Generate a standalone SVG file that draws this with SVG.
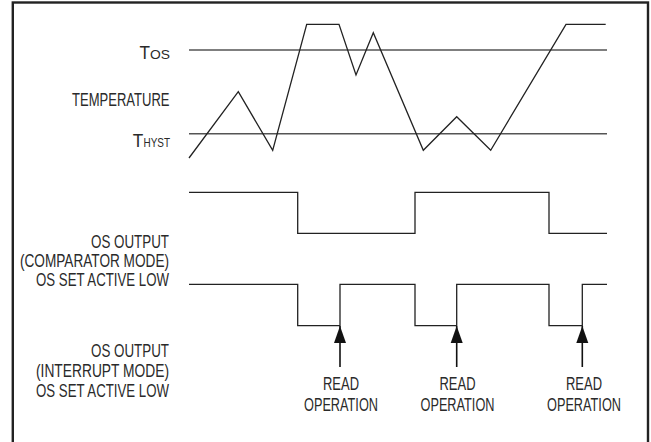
<svg xmlns="http://www.w3.org/2000/svg" width="651" height="442" viewBox="0 0 651 442">
<defs>
<style>
.lbl{font-family:"Liberation Sans",Arial,sans-serif;font-size:18.5px;fill:#2a2a2a;}
.sub{font-family:"Liberation Sans",Arial,sans-serif;font-size:13.5px;fill:#2a2a2a;}
.thr{fill:none;stroke:#555;stroke-width:1.5;}
.wave{fill:none;stroke:#222;stroke-width:1.3;stroke-linejoin:miter;}
.arr{stroke:#111;stroke-width:1.6;fill:none;}
</style>
<marker id="ah" markerUnits="userSpaceOnUse" markerWidth="18" markerHeight="13" refX="17" refY="6" orient="auto" viewBox="0 0 18 12">
<path d="M0,0 L17,6 L0,12 z" fill="#111"/>
</marker>
</defs>
<rect x="0" y="0" width="651" height="442" fill="#fff"/>
<rect x="12.8" y="2.5" width="635.2" height="445" fill="none" stroke="#222" stroke-width="2.4"/>

<g id="label-tos">
<text class="lbl" x="139.5" y="58.5" textLength="10.5" lengthAdjust="spacingAndGlyphs">T</text>
<text class="sub" x="150" y="58.5" textLength="20" lengthAdjust="spacingAndGlyphs">OS</text>
</g>
<g id="label-temperature">
<text class="lbl" x="72" y="106" textLength="97.5" lengthAdjust="spacingAndGlyphs">TEMPERATURE</text>
</g>
<g id="label-thyst">
<text class="lbl" x="132.7" y="147.3" textLength="10.5" lengthAdjust="spacingAndGlyphs">T</text>
<text class="sub" x="143.5" y="147.3" textLength="26.5" lengthAdjust="spacingAndGlyphs">HYST</text>
</g>
<g id="label-comparator">
<text class="lbl" x="91" y="248" textLength="78" lengthAdjust="spacingAndGlyphs">OS OUTPUT</text>
<text class="lbl" x="20" y="267" textLength="149" lengthAdjust="spacingAndGlyphs">(COMPARATOR MODE)</text>
<text class="lbl" x="36" y="286" textLength="133" lengthAdjust="spacingAndGlyphs">OS SET ACTIVE LOW</text>
</g>
<g id="label-interrupt">
<text class="lbl" x="91" y="357" textLength="78" lengthAdjust="spacingAndGlyphs">OS OUTPUT</text>
<text class="lbl" x="36" y="377" textLength="133" lengthAdjust="spacingAndGlyphs">(INTERRUPT MODE)</text>
<text class="lbl" x="36" y="396.5" textLength="133" lengthAdjust="spacingAndGlyphs">OS SET ACTIVE LOW</text>
</g>

<g id="threshold-tos"><line class="thr" x1="189" y1="50" x2="607" y2="50"/></g>
<g id="threshold-thyst"><line class="thr" x1="189" y1="133.7" x2="607" y2="133.7"/></g>
<g id="temperature-wave">
<polyline class="wave" points="189,158 238.3,91.7 272.7,150.3 306.7,24.3 339,24.3 356,75 373.3,32.7 423.3,150.3 456.7,116.7 490.7,150.3 566,24.3 605.7,24.3"/>
</g>
<g id="comparator-wave">
<polyline class="wave" points="189,192.3 297.7,192.3 297.7,233.3 415,233.3 415,192.3 549,192.3 549,233.3 607,233.3"/>
</g>
<g id="interrupt-wave">
<polyline class="wave" points="189,284.3 297.7,284.3 297.7,325.7 340,325.7 340,284.3 415,284.3 415,325.7 456.7,325.7 456.7,284.3 549,284.3 549,325.7 582.3,325.7 582.3,284.3 607,284.3"/>
</g>

<g id="read-1">
<text class="lbl" x="341" y="389.5" text-anchor="middle" textLength="36" lengthAdjust="spacingAndGlyphs">READ</text>
<text class="lbl" x="341" y="410.5" text-anchor="middle" textLength="74" lengthAdjust="spacingAndGlyphs">OPERATION</text>
</g>
<g id="read-2">
<text class="lbl" x="457.5" y="389.5" text-anchor="middle" textLength="36" lengthAdjust="spacingAndGlyphs">READ</text>
<text class="lbl" x="457.5" y="410.5" text-anchor="middle" textLength="74" lengthAdjust="spacingAndGlyphs">OPERATION</text>
</g>
<g id="read-3">
<text class="lbl" x="584" y="389.5" text-anchor="middle" textLength="36" lengthAdjust="spacingAndGlyphs">READ</text>
<text class="lbl" x="584" y="410.5" text-anchor="middle" textLength="74" lengthAdjust="spacingAndGlyphs">OPERATION</text>
</g>

<g id="connectors">
<line class="arr" x1="340" y1="367" x2="340" y2="326" marker-end="url(#ah)"/>
<line class="arr" x1="456.7" y1="367" x2="456.7" y2="326" marker-end="url(#ah)"/>
<line class="arr" x1="582.3" y1="367" x2="582.3" y2="326" marker-end="url(#ah)"/>
</g>
</svg>
